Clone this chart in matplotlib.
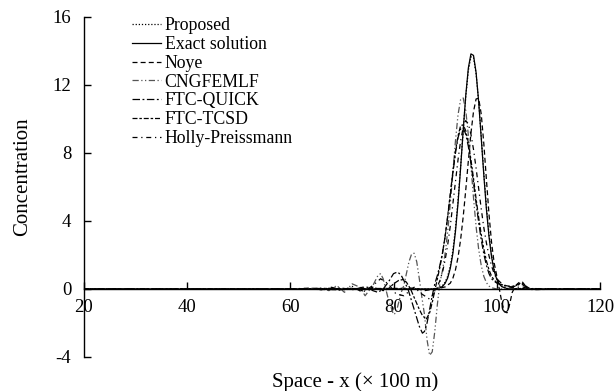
import numpy as np
import matplotlib.pyplot as plt

plt.rcParams['font.family'] = ['Liberation Serif', 'DejaVu Serif']
plt.rcParams['axes.unicode_minus'] = False

# values (x in 100 m, concentration)
exact_x = [20, 87.5, 88.5, 89, 89.5, 90, 90.5, 91, 91.5, 92, 92.5, 93, 93.5, 94, 94.5,
           95, 95.5, 96, 96.5, 97, 97.5, 98, 98.5, 99, 99.5, 100, 100.5, 101, 102, 120]
exact_y = [0, 0, 0.03, 0.07, 0.15, 0.33, 0.65, 1.21, 2.08, 3.37, 5.04, 7.11, 9.32, 11.39, 12.99,
           13.82, 13.73, 12.72, 11.0, 8.86, 6.68, 4.69, 3.08, 1.88, 1.07, 0.57, 0.28, 0.13, 0.02, 0]

proposed_x = exact_x
proposed_y = [0, 0, 0.05, 0.1, 0.2, 0.4, 0.75, 1.35, 2.25, 3.55, 5.2, 7.2, 9.3, 11.3, 12.85,
              13.65, 13.6, 12.65, 11.0, 8.95, 6.8, 4.85, 3.2, 2.0, 1.15, 0.62, 0.32, 0.15, 0.03, 0]

noye_x = [20, 60, 70, 80, 84, 86, 88, 89, 90, 91, 91.5, 92, 92.5, 93, 93.5, 94, 94.5, 95, 95.5,
          96, 96.5, 97, 97.5, 98, 98.5, 99, 99.5, 100, 100.5, 101, 101.5, 102, 102.5, 103,
          103.5, 104, 104.5, 105, 105.5, 106, 107, 110, 120]
noye_y = [0, 0, 0.02, 0.03, 0.05, -0.1, 0, 0.05, 0.12, 0.34, 0.63, 1.12, 1.86, 2.9, 4.24, 5.83,
          7.54, 9.15, 10.43, 11.17, 11.21, 10.27, 8.53, 6.43, 4.39, 2.72, 1.53, 0.78, 0.0, -0.8,
          -1.35, -1.4, -0.9, -0.2, 0.1, 0.3, 0.42, 0.4, 0.2, 0.05, -0.05, 0, 0]

cng_x = [20, 60, 66, 67.5, 69, 70.5, 72, 73.5, 74.5, 76, 77, 77.5, 78, 79, 80, 80.5, 81, 81.5,
         82, 82.5, 83, 83.5, 84, 84.5, 85, 85.5, 86, 86.5, 87, 87.5, 88, 88.5, 89, 89.5, 90,
         90.5, 91, 91.5, 92, 92.5, 93, 93.5, 94, 94.5, 95, 95.5, 96, 96.5, 97, 97.5, 98, 98.5,
         99, 100, 102, 110, 120]
cng_y = [0, 0, 0.05, -0.1, 0.2, -0.2, 0.3, 0.1, -0.4, 0.2, 0.8, 0.9, 0.6, -0.6, -1.5, -1.4,
         -0.8, -0.2, 0.2, 0.9, 1.6, 2.05, 2.1, 1.6, 0.6, -0.5, -1.5, -3.0, -3.9, -3.7, -2.5,
         -0.9, 0.4, 1.1, 2.1, 3.37, 5.0, 6.86, 8.7, 10.24, 11.14, 11.23, 10.48, 9.05, 7.24, 5.35,
         3.67, 2.33, 1.37, 0.74, 0.37, 0.17, 0.07, 0.0, 0.0, 0, 0]

quick_x = [20, 60, 70, 72, 74, 75, 76, 77, 78, 79, 80, 80.8, 81.5, 82, 82.8, 83.5, 84, 84.5, 85,
           85.6, 86, 86.5, 87, 87.5, 88, 88.5, 89, 89.5, 90, 90.5, 91, 91.5, 92, 92.5, 93, 93.5,
           94, 94.5, 95, 95.5, 96, 96.5, 97, 97.5, 98, 98.5, 99, 99.5, 100, 100.5, 101, 102,
           103, 104, 104.5, 105, 106, 107, 108, 120]
quick_y = [0, 0, 0.05, -0.05, 0.1, 0.1, -0.1, -0.2, 0.0, 0.4, 0.9, 1.0, 0.8, 0.5, 0.0, -0.7,
           -1.2, -1.7, -2.2, -2.6, -2.5, -2.0, -1.2, -0.4, 0.3, 0.8, 1.41, 2.14, 3.08, 4.23, 5.5,
           6.8, 7.98, 8.89, 9.41, 9.47, 9.1, 8.38, 7.39, 6.24, 5.04, 3.9, 2.89, 2.05, 1.39, 0.9,
           0.6, 0.45, 0.35, 0.28, 0.22, 0.15, 0.12, 0.2, 0.3, 0.25, 0.05, -0.05, 0, 0]

tcsd_x = [20, 60, 70, 72, 74, 76, 78, 79, 80, 81, 81.8, 82.5, 83.3, 84, 85, 85.5, 86.3, 87,
          87.5, 88, 88.5, 89, 89.5, 90, 90.5, 91, 91.5, 92, 92.5, 93, 93.5, 94, 94.5, 95, 95.5,
          96, 96.5, 97, 97.5, 98, 98.5, 99, 99.5, 100, 101, 102, 103, 104, 104.8, 105.5, 106.5,
          108, 120]
tcsd_y = [0, 0, -0.05, 0.05, -0.1, 0.1, -0.1, 0.0, 0.3, 0.5, 0.55, 0.4, 0.0, -0.5, -1.2, -1.5,
          -1.8, -1.4, -0.8, -0.1, 0.6, 1.3, 2.1, 3.1, 4.3, 5.6, 6.9, 8.1, 9.0, 9.6, 9.65, 9.3,
          8.6, 7.6, 6.5, 5.3, 4.2, 3.2, 2.35, 1.65, 1.12, 0.75, 0.52, 0.38, 0.25, 0.18, 0.15,
          0.25, 0.38, 0.2, 0.0, -0.03, 0]

holly_x = [20, 60, 64, 66, 68, 70, 72, 74, 76, 77.5, 79, 80.5, 82, 84, 85.5, 87, 88, 89, 89.5,
           90, 90.5, 91, 91.5, 92, 92.5, 93, 93.5, 94, 94.5, 95, 95.5, 96, 96.5, 97, 97.5, 98,
           98.5, 99, 99.5, 100, 101, 102, 103, 104, 105, 106, 108, 120]
holly_y = [0, 0, 0.05, -0.05, 0.1, -0.1, 0.15, -0.2, 0.2, 0.6, 0.3, -0.3, -0.4, 0.1, -0.3,
           -0.6, -0.2, 0.5, 1.0, 1.7, 2.6, 3.7, 5.0, 6.3, 7.6, 8.7, 9.5, 9.9, 9.7, 9.1, 8.2, 7.1,
           5.9, 4.7, 3.6, 2.7, 1.95, 1.35, 0.9, 0.6, 0.3, 0.15, 0.08, 0.1, 0.12, 0.03, 0, 0]

fig = plt.figure(figsize=(6.16, 3.91), dpi=100)
ax = fig.add_axes([0.136, 0.087, 0.838, 0.87])

lw = 0.9
ax.plot(proposed_x, proposed_y, color='black', lw=lw, linestyle=(0, (1, 1.5)), label='Proposed')
ax.plot(exact_x, exact_y, color='black', lw=lw, linestyle='-', label='Exact solution')
ax.plot(noye_x, noye_y, color='black', lw=lw, linestyle=(0, (4, 2.5)), label='Noye')
ax.plot(cng_x, cng_y, color='#555555', lw=lw, linestyle=(0, (5, 2, 1, 2, 1, 2)), label='CNGFEMLF')
ax.plot(quick_x, quick_y, color='black', lw=lw, linestyle=(0, (6, 2, 1.5, 2)), label='FTC-QUICK')
ax.plot(tcsd_x, tcsd_y, color='black', lw=lw, linestyle=(0, (4, 1.5, 2, 1.5)), label='FTC-TCSD')
ax.plot(holly_x, holly_y, color='black', lw=lw, linestyle=(0, (4, 3, 1, 3)), label='Holly-Preissmann')

ax.set_xlim(20, 120)
ax.set_ylim(-4, 16)
ax.set_xticks([20, 40, 60, 80, 100, 120])
ax.set_yticks([-4, 0, 4, 8, 12, 16])

ax.spines['top'].set_visible(False)
ax.spines['right'].set_visible(False)
ax.spines['bottom'].set_position(('data', 0))
ax.spines['left'].set_linewidth(1.0)
ax.spines['bottom'].set_linewidth(1.0)
ax.tick_params(direction='in', length=5, width=1.0, labelsize=13.5)
ax.tick_params(axis='x', pad=7)
ax.tick_params(axis='y', pad=9)

ax.set_ylabel('Concentration', fontsize=15)
ax.yaxis.set_label_coords(-0.10, 0.53)
ax.text(72.5, -5.45, 'Space - x (× 100 m)', ha='center', va='center', fontsize=15)

ax.legend(loc='upper left', bbox_to_anchor=(0.073, 1.03), frameon=False, fontsize=12.8,
          handlelength=1.63, handletextpad=0.2, labelspacing=0.1, borderaxespad=0.2)

fig.savefig('out.png', dpi=100)
